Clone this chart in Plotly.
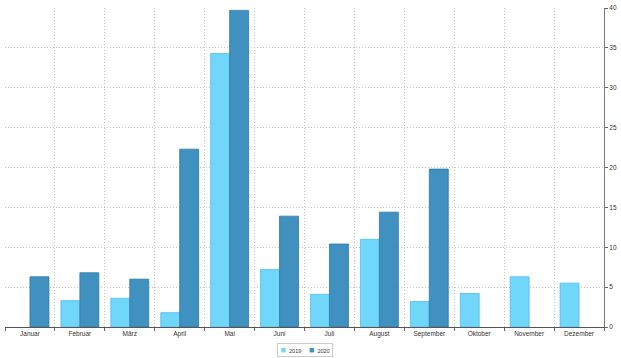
import plotly.graph_objects as go

months = ["Januar", "Februar", "März", "April", "Mai", "Juni", "Juli",
          "August", "September", "Oktober", "November", "Dezember"]
values_2019 = [None, 3.3, 3.6, 1.8, 34.3, 7.2, 4.1, 11.0, 3.2, 4.2, 6.3, 5.5]
values_2020 = [6.3, 6.8, 6.0, 22.3, 39.7, 13.9, 10.4, 14.4, 19.8, None, None, None]
y_ticks = [0, 5, 10, 15, 20, 25, 30, 35, 40]
series_names = ["2019", "2020"]
fill_colors = ["rgb(112,214,250)", "rgb(64,144,192)"]
edge_colors = ["rgb(80,190,235)", "rgb(45,120,170)"]

fig = go.Figure()
for name, vals, fc, ec in zip(series_names, [values_2019, values_2020], fill_colors, edge_colors):
    fig.add_bar(x=months, y=vals, name=name,
                marker=dict(color=fc, line=dict(color=ec, width=0.8)))

# compact legend box (text-based) under the plot
legend_text = "&nbsp;&nbsp;&nbsp;&nbsp;&nbsp;".join(
    f"<span style='color:{fc};font-size:9px'>■</span>&nbsp;&nbsp;{name}"
    for name, fc in zip(series_names, fill_colors))
fig.add_annotation(text="&nbsp;" + legend_text + "&nbsp;", xref="paper", yref="paper",
                   x=0.5, y=-0.073,
                   xanchor="center", yanchor="middle", showarrow=False,
                   font=dict(size=5.5, color="#333"),
                   bordercolor="#cccccc", borderwidth=1, borderpad=1, bgcolor="white")

fig.update_layout(
    width=621, height=358,
    margin=dict(l=5, r=16, t=4, b=31),
    paper_bgcolor="white", plot_bgcolor="white",
    barmode="group", bargap=0.24, bargroupgap=0,
    font=dict(family="Liberation Sans, Arial, sans-serif", size=7, color="#444"),
    showlegend=False,
)
grid = dict(showgrid=True, gridcolor="#c8c8c8", griddash="1px,2px", gridwidth=1)
fig.update_xaxes(
    type="category", tickson="boundaries", ticks="outside", ticklen=3,
    tickcolor="#666", showline=True, linecolor="#555", linewidth=1,
    tickfont=dict(size=6.5, color="#333"), fixedrange=True, **grid,
)
fig.update_yaxes(
    side="right", range=[0, 40], tickvals=y_ticks, ticks="outside", ticklen=3,
    tickcolor="#666", showline=True, linecolor="#777", linewidth=1,
    zeroline=False, tickfont=dict(size=6.5, color="#333"), fixedrange=True, **grid,
)

fig.write_html("out.html", config={"displayModeBar": False},
               post_script="document.body.style.margin='0';")
